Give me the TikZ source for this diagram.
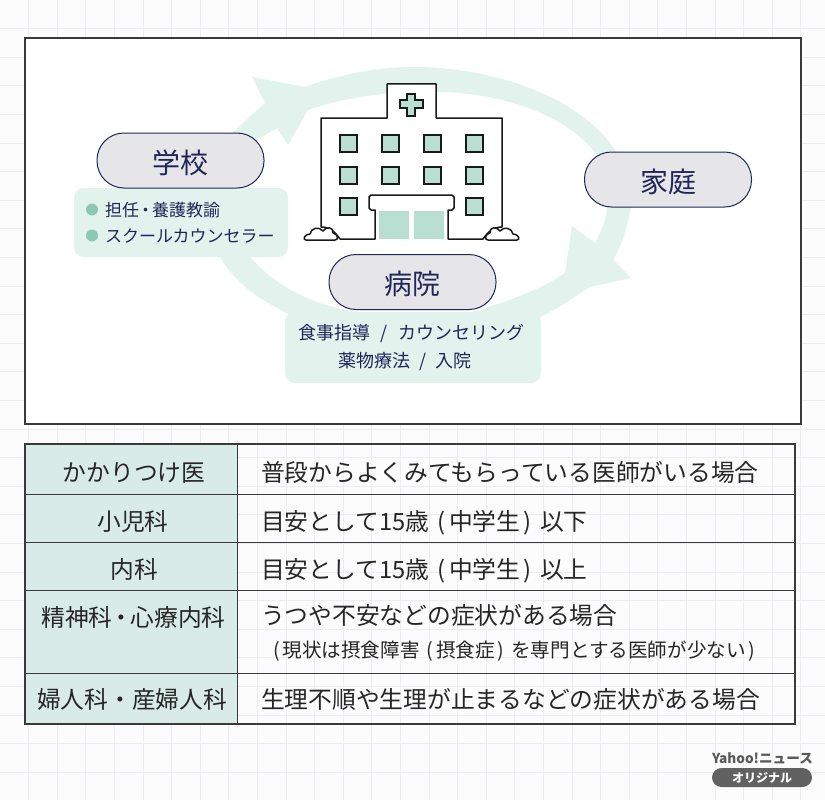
\documentclass[tikz,border=0pt]{standalone}
\usepackage{fontspec}
\setmainfont{Noto Sans CJK JP}
\definecolor{gridgray}{HTML}{ECECF2}
\definecolor{ringgreen}{HTML}{E2F2EC}
\definecolor{winggreen}{HTML}{B8DFD2}
\definecolor{dotgreen}{HTML}{8CC9B4}
\definecolor{cellgreen}{HTML}{D9EBE6}
\definecolor{pillgray}{HTML}{E6E6E8}
\definecolor{navy}{HTML}{20265A}
\definecolor{inkgray}{HTML}{3A3A3A}
\newcommand{\openp}[1]{\hspace{#1}(\hspace{#1}}
\newcommand{\closep}[1]{\hspace{#1})\hspace{#1}}
\tikzset{
	pillbox/.style={draw=navy,line width=1pt,fill=pillgray,rounded corners=27pt,minimum width=167pt,minimum height=55pt,inner sep=0pt,text=navy,font=\fontsize{28}{28}\selectfont,text height=26.5pt,text depth=1.5pt},
	smalltext/.style={inner sep=0pt,text=navy,font=\fontsize{17}{17}\selectfont,text height=15pt,text depth=2pt},
	midtext/.style={inner sep=0pt,text=navy,font=\fontsize{18}{18}\selectfont,text height=15.8pt,text depth=2.2pt},
	celltext/.style={inner sep=0pt,text=black!85,font=\fontsize{23.75}{24}\selectfont,text height=20.8pt,text depth=2.8pt},
	notetext/.style={inner sep=0pt,text=black!85,font=\fontsize{19.6}{20}\selectfont,text height=17.2pt,text depth=2.4pt},
	window/.style={draw=black!90,line width=1.3pt,fill=winggreen},
	pics/bush/.style={code={
		\draw[black!90,line width=1.5pt,fill=white,line join=round] (306,240) .. controls (303,240) and (303,235) .. (310,234) .. controls (311,228) and (319,226) .. (323,231) .. controls (326,226) and (334,227) .. (333,233) .. controls (338,234) and (339,240) .. (335,240) -- cycle;
	}},
}
\begin{document}
\begin{tikzpicture}[x=1pt,y=-1pt]
	\useasboundingbox (0,0) rectangle (825,800);
	\fill[white!98!gray] (0,0) rectangle (825,800);
	% grid
	\foreach \k in {1,...,28}{
		\draw[gridgray,line width=1pt] ({28.6*\k},0)--({28.6*\k},800);
		\draw[gridgray,line width=1pt] (0,{28.6*\k})--(825,{28.6*\k});
	}
	% upper panel
	\draw[fill=white,draw=inkgray,line width=1.2pt] (25,38) rectangle (801,424);
	\fill[ringgreen,even odd rule]
		(190,195) .. controls (195,165) and (212,148) .. (233,132) -- (265,103) -- (252,77) -- (305,87)
		.. controls (340,74) and (380,67) .. (412,67) .. controls (500,67) and (580,100) .. (613,147)
		.. controls (630,170) and (635,190) .. (631,207) .. controls (628,225) and (622,245) .. (613,260)
		-- (631,278) -- (590,287) .. controls (570,300) and (555,310) .. (540,317)
		.. controls (480,345) and (340,345) .. (287,313) .. controls (260,300) and (235,283) .. (220,257)
		.. controls (205,235) and (185,215) .. (190,195) -- cycle
		(250,257) .. controls (275,285) and (305,300) .. (337,308) .. controls (380,318) and (440,320) .. (480,310)
		.. controls (510,300) and (540,290) .. (565,273) -- (572,226) -- (595,243)
		.. controls (602,230) and (607,218) .. (607,207) .. controls (607,185) and (603,165) .. (593,150)
		.. controls (560,110) and (490,92) .. (437,92) .. controls (395,90) and (345,97) .. (308,110)
		-- (288,145) -- (277,128) -- (260,138) .. controls (240,150) and (225,175) .. (222,195)
		.. controls (225,220) and (235,240) .. (250,257) -- cycle;
	\fill[ringgreen,rounded corners=10pt] (74,188) rectangle (288,257);
	\fill[ringgreen,rounded corners=10pt] (285,312) rectangle (541,383);
	% hospital
	\fill[white] (369,195) rectangle (454,210);
	\fill[white] (375,210) rectangle (448,239);
	\draw[black!90,line width=1.5pt,fill=white,line join=round] (321,227) -- (321,118) -- (387,118) -- (387,84) -- (436,84) -- (436,118) -- (502,118) -- (502,227) .. controls (493,227) and (488,232) .. (483,239) -- (448,239) -- (448,210) -- (452,210) -- (454,208) -- (454,197) -- (452,195) -- (371,195) -- (369,197) -- (369,208) -- (371,210) -- (375,210) -- (375,239) -- (340,239) .. controls (335,232) and (330,227) .. (321,227) -- cycle;
	\draw[window] (407,94) -- (415,94) -- (415,100) -- (423,100) -- (423,108) -- (415,108) -- (415,116) -- (407,116) -- (407,108) -- (400,108) -- (400,100) -- (407,100) -- cycle;
	\foreach \x in {340,382,424,466}{
		\draw[window] (\x,135) rectangle ++(17,17);
		\draw[window] (\x,167) rectangle ++(17,17);
	}
	\draw[window] (340,198) rectangle ++(17,17);
	\draw[window] (466,198) rectangle ++(17,17);
	\fill[winggreen] (379,211) rectangle (409,239);
	\fill[winggreen] (414,211) rectangle (444,239);
	\pic at (0,0) {bush};
	\pic[xscale=-1] at (823,0) {bush};
	% pills
	\node[pillbox] (school) at (180.5,160.5) {学校};
	\node[pillbox] (home) at (668,179.5) {家庭};
	\node[pillbox] (hospital) at (412.5,282) {病院};
	\fill[dotgreen] (92,209.5) circle (6);
	\fill[dotgreen] (92,235.5) circle (6);
	\node[smalltext,anchor=west] (staffa) at (105,210) {担任\hspace{-2pt}・\hspace{-2pt}養護教諭};
	\node[smalltext,anchor=west] (staffb) at (105,236) {スクールカウンセラー};
	\node[midtext] (carea) at (411.5,333) {食事指導\hspace{6.5pt} / \hspace{6.5pt}カウンセリング};
	\node[midtext] (careb) at (405,361) {薬物療法\hspace{5pt} / \hspace{5pt}入院};
	% table
	\fill[cellgreen] (25,444) rectangle (237,724);
	\draw[inkgray,line width=1.2pt] (25,444) rectangle (795,724);
	\draw[inkgray,line width=1pt] (237,444)--(237,724);
	\draw[inkgray,line width=1pt] (25,494)--(795,494);
	\draw[inkgray,line width=1pt] (25,542)--(795,542);
	\draw[inkgray,line width=1pt] (25,590)--(795,590);
	\draw[inkgray,line width=1pt] (25,673)--(795,673);
	\node[celltext] (doca) at (134,472) {かかりつけ医};
	\node[celltext] (docb) at (133,521) {小児科};
	\node[celltext] (docc) at (134,569) {内科};
	\node[celltext] (docd) at (133.5,617) {精神科\hspace{-3pt}・\hspace{-3pt}心療内科};
	\node[celltext] (doce) at (132,699) {婦人科・産婦人科};
	\node[celltext,anchor=west] (casea) at (261,472) {普段からよくみてもらっている医師がいる場合};
	\node[celltext,anchor=west] (caseb) at (261,521) {目安として15歳 \openp{3.2pt}中学生\closep{3.2pt} 以下};
	\node[celltext,anchor=west] (casec) at (261,569) {目安として15歳 \openp{3.2pt}中学生\closep{3.2pt} 以上};
	\node[celltext,anchor=west] (cased) at (261,615) {うつや不安などの症状がある場合};
	\node[notetext,anchor=west] (notea) at (273,650) {(\hspace{2.7pt}現状は摂食障害 \openp{2.7pt}摂食症\closep{2.7pt} を専門とする医師が少ない\hspace{2.7pt})};
	\node[celltext,anchor=west] (casee) at (261,699) {生理不順や生理が止まるなどの症状がある場合};
	% logo
	\node[inner sep=0pt,text=black!65,font=\fontsize{13.6}{14}\bfseries\selectfont] (yahoo) at (762.5,758) {Yahoo!ニュース};
	\node[fill=black!62,rounded corners=9.5pt,minimum width=100pt,minimum height=19pt,inner sep=0pt,text=white,font=\fontsize{12}{12}\bfseries\selectfont] (orig) at (762,777.5) {オリジナル};
\end{tikzpicture}
\end{document}
